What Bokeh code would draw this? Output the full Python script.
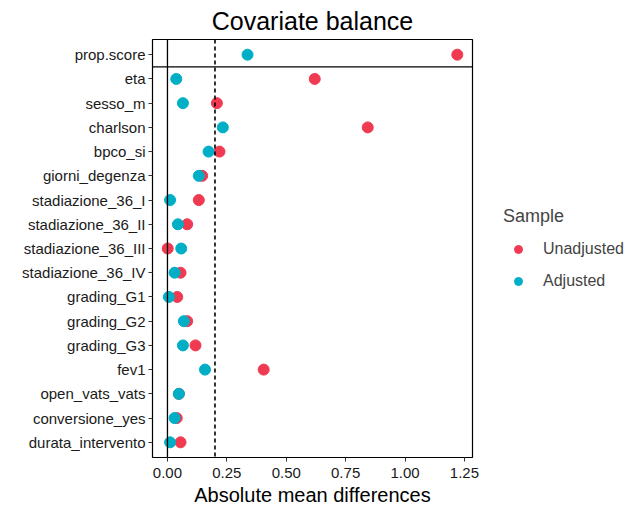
from bokeh.plotting import figure
from bokeh.models import Span, Legend, LegendItem, FactorRange, ColumnDataSource, FixedTicker
from bokeh.embed import file_html
from bokeh.resources import INLINE

covariates = ["prop.score", "eta", "sesso_m", "charlson", "bpco_si", "giorni_degenza",
              "stadiazione_36_I", "stadiazione_36_II", "stadiazione_36_III", "stadiazione_36_IV",
              "grading_G1", "grading_G2", "grading_G3", "fev1", "open_vats_vats",
              "conversione_yes", "durata_intervento"]
unadjusted = [1.22, 0.62, 0.208, 0.843, 0.219, 0.146, 0.132, 0.083, 0.001, 0.055,
              0.041, 0.083, 0.118, 0.405, 0.048, 0.039, 0.055]
adjusted = [0.337, 0.037, 0.065, 0.233, 0.173, 0.132, 0.011, 0.044, 0.058, 0.030,
            0.006, 0.069, 0.065, 0.158, 0.048, 0.030, 0.011]
x_ticks = [0.0, 0.25, 0.5, 0.75, 1.0, 1.25]
x_tick_labels = ["0.00", "0.25", "0.50", "0.75", "1.00", "1.25"]
threshold = 0.2

FONT = "Liberation Sans"
RED = "#EF3A52"
TEAL = "#00AFC6"

yr = FactorRange(factors=list(reversed(covariates)), range_padding=0.015)
p = figure(y_range=yr, x_range=(-0.063, 1.284), frame_width=320, frame_height=418,
           output_backend="svg", toolbar_location=None, min_border_left=152,
           min_border_right=143, min_border_top=3, min_border_bottom=0,
           title="Covariate balance")
p.title.text_font = FONT
p.title.text_font_size = "25px"
p.title.text_font_style = "normal"
p.title.align = "center"
p.title.text_color = "black"
p.title.standoff = 9

p.xgrid.visible = False
p.ygrid.visible = False
p.outline_line_color = "black"
p.outline_line_width = 1.2

for ax in (p.xaxis[0], p.yaxis[0]):
    ax.axis_line_color = None
    ax.major_tick_line_color = "#333333"
    ax.major_tick_out = 4
    ax.major_tick_in = 0
    ax.minor_tick_line_color = None
    ax.major_label_text_font = FONT
    ax.major_label_text_font_size = "15px"
    ax.major_label_text_color = "#1a1a1a"

p.xaxis.ticker = FixedTicker(ticks=x_ticks)
p.xaxis.major_label_overrides = {t: l for t, l in zip(x_ticks, x_tick_labels)}
p.xaxis.axis_label = "Absolute mean differences"
p.xaxis.axis_label_text_font = FONT
p.xaxis.axis_label_text_font_size = "20px"
p.xaxis.axis_label_text_font_style = "normal"
p.xaxis.axis_label_text_color = "black"
p.xaxis.axis_label_standoff = 3
p.xaxis.major_label_standoff = 6
p.yaxis.major_label_standoff = 3

p.add_layout(Span(location=0, dimension="height", line_color="black", line_width=1.3))
p.add_layout(Span(location=threshold, dimension="height", line_color="black",
                  line_width=1.6, line_dash="4 3"))
# horizontal separator between the prop.score panel and the covariates panel
p.add_layout(Span(location=len(covariates) - 1, dimension="width",
                  line_color="black", line_width=1.2))

src = ColumnDataSource(dict(cov=covariates, un=unadjusted, ad=adjusted))
r_un = p.scatter(x="un", y="cov", source=src, size=11, color=RED, line_color=RED)
r_ad = p.scatter(x="ad", y="cov", source=src, size=11, color=TEAL, line_color=TEAL)

legend = Legend(items=[LegendItem(label="Unadjusted", renderers=[r_un]),
                       LegendItem(label="Adjusted", renderers=[r_ad])],
                title="Sample", location=(31, 166))
legend.title_text_font = FONT
legend.title_text_font_size = "18px"
legend.title_text_font_style = "normal"
legend.title_standoff = 12
legend.label_text_font = FONT
legend.label_text_font_size = "16px"
legend.border_line_color = None
legend.background_fill_alpha = 0
legend.margin = 0
legend.padding = 3
legend.glyph_width = 30
legend.glyph_height = 20
legend.label_standoff = 10
legend.spacing = 12
p.add_layout(legend, "right")

open("out.html", "w").write(file_html(p, INLINE))
